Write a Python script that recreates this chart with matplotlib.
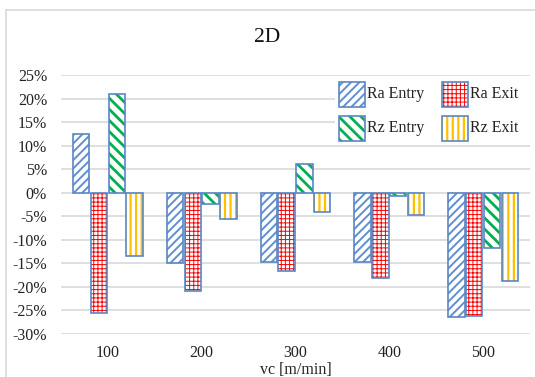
import matplotlib
matplotlib.use("Agg")
import matplotlib.pyplot as plt
import numpy as np
from matplotlib.patches import Rectangle
from matplotlib.ticker import FuncFormatter

categories = ["100", "200", "300", "400", "500"]
ra_entry = [12.5, -15.0, -14.7, -14.8, -26.3]
ra_exit = [-25.5, -20.8, -16.7, -18.2, -26.2]
rz_entry = [21.0, -2.3, 6.2, -0.6, -11.7]
rz_exit = [-13.4, -5.6, -4.0, -4.7, -18.7]
series_names = ["Ra Entry", "Ra Exit", "Rz Entry", "Rz Exit"]
yticks = list(range(-30, 30, 5))

plt.rcParams['font.family'] = ['Liberation Serif', 'DejaVu Serif']

W, H = 535, 377
fig = plt.figure(figsize=(W / 100, H / 100), dpi=100)
fig.patches.append(Rectangle((6 / W, -0.1), 1.2, 1 - 10 / H + 0.1,
                             transform=fig.transFigure, fill=False,
                             edgecolor="#d9d9d9", linewidth=1.2))

ax = fig.add_axes([61 / W, 1 - 334 / H, (530 - 61) / W, (334 - 75) / H])

edge_blue = "#5a87c5"
hatch_colors = ["#5f8fd0", "#ff0000", "#00b050", "#ffc000"]
hatches = ["////", "++++", "\\\\\\", "|||"]
hatch_lw = [1.4, 0.7, 2.0, 1.6]
data = [ra_entry, ra_exit, rz_entry, rz_exit]


def wrap_hatch_lw(artist, lw):
    orig = artist.draw

    def draw(renderer, _orig=orig, _lw=lw):
        with plt.rc_context({'hatch.linewidth': _lw}):
            _orig(renderer)
    artist.draw = draw


x = np.arange(len(categories))
step = 0.19
width = 0.175
for i, vals in enumerate(data):
    off = (i - 1.5) * step
    with plt.rc_context({'hatch.linewidth': hatch_lw[i]}):
        bars = ax.bar(x + off, vals, width, facecolor="white",
                      edgecolor=hatch_colors[i], hatch=hatches[i], linewidth=0,
                      zorder=2)
    for b in bars:
        wrap_hatch_lw(b, hatch_lw[i])
    ax.bar(x + off, vals, width, fill=False, edgecolor=edge_blue,
           linewidth=1.2, zorder=3)

ax.set_xlim(-0.5, len(categories) - 0.5)
ax.set_ylim(-30, 25)
ax.set_yticks(yticks)
ax.yaxis.set_major_formatter(FuncFormatter(lambda v, p: f"{int(round(v))}%"))
ax.set_xticks(x)
ax.set_xticklabels(categories)
ax.grid(axis="y", color="#d9d9d9", linewidth=1.2, zorder=0)
ax.set_axisbelow(True)
for s in ax.spines.values():
    s.set_visible(False)
ax.tick_params(axis="both", length=0, labelsize=11.5, colors="#222222")
ax.tick_params(axis="y", pad=10)
ax.tick_params(axis="x", pad=8)
ax.set_xlabel("vc [m/min]", fontsize=11.5, color="#222222", labelpad=1)

fig.text(267 / W, 1 - 38 / H, "2D", ha="center", va="center", fontsize=15.5, color="#111111")

# legend (drawn manually to keep per-entry hatch styling)
fig.patches.append(Rectangle((335 / W, 1 - 144 / H), (530 - 335) / W, (144 - 77) / H,
                             transform=fig.transFigure, facecolor="white",
                             edgecolor="none", zorder=5))
leg_pos = [(339, 82), (442, 82), (339, 116), (442, 116)]
for i, (px, py) in enumerate(leg_pos):
    with plt.rc_context({'hatch.linewidth': hatch_lw[i]}):
        hp = Rectangle((px / W, 1 - (py + 25) / H), 26 / W, 25 / H,
                       transform=fig.transFigure, facecolor="white",
                       edgecolor=hatch_colors[i], hatch=hatches[i], linewidth=0,
                       zorder=6)
    wrap_hatch_lw(hp, hatch_lw[i])
    fig.patches.append(hp)
    fig.patches.append(Rectangle((px / W, 1 - (py + 25) / H), 26 / W, 25 / H,
                                 transform=fig.transFigure, fill=False,
                                 edgecolor=edge_blue, linewidth=1.2, zorder=7))
    fig.text((px + 28) / W, 1 - (py + 12.5) / H, series_names[i], ha="left",
             va="center", fontsize=11.5, color="#222222", zorder=8)

fig.savefig("out.png", dpi=100)
